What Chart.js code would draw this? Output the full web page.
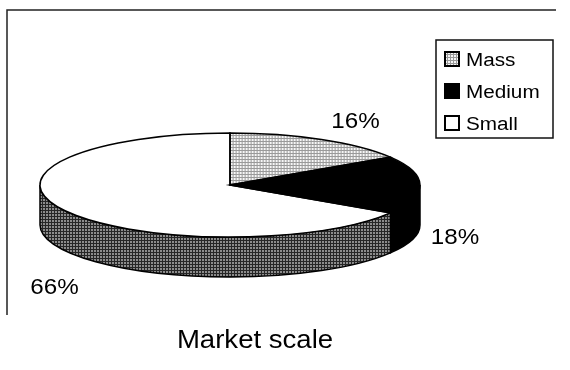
<!DOCTYPE html>
<html>
<head>
<meta charset="utf-8">
<script src="https://cdn.jsdelivr.net/npm/chart.js@4.4.0/dist/chart.umd.min.js"></script>
<style>
  html, body { margin: 0; padding: 0; background: #fff; }
  canvas { display: block; }
</style>
</head>
<body>
<canvas id="pieChart" width="570" height="370"></canvas>
<script>
// Market scale shares, in percent
const categories = ['Mass', 'Medium', 'Small'];
const shares = [16, 18, 66];
const shareLabels = ['16%', '18%', '66%'];
const chartTitle = 'Market scale';

const FONT = '"Liberation Sans", Arial, Helvetica, sans-serif';
const ctx = document.getElementById('pieChart').getContext('2d');

// fine print screens like the scanned original
function screenPattern(bg, ink) {
  const c = document.createElement('canvas');
  c.width = 3; c.height = 3;
  const g = c.getContext('2d');
  g.fillStyle = bg; g.fillRect(0, 0, 3, 3);
  g.fillStyle = ink; g.fillRect(0, 0, 3, 1); g.fillRect(0, 0, 1, 3);
  return ctx.createPattern(c, 'repeat');
}

const massFace = screenPattern('#f6f6f6', '#9a9a9a');
const massSwatch = screenPattern('#f6f6f6', '#9a9a9a');
const smallSide = screenPattern('#8c8c8c', '#262626');

const faceFills = [massFace, '#000', '#fff'];
const sideFills = ['#777', '#000', smallSide];
const swatchFills = [massSwatch, '#000', '#fff'];

const depth = 40;             // thickness of the disc
const labelOffsets = [[34, -17], [35, 53], [-9, 78]];

// squash the round pie into the wide chart area
function flatten(c, el, sx) {
  c.translate(el.x, el.y);
  c.scale(sx, 1);
  c.translate(-el.x, -el.y);
}

function stretchedText(c, text, x, y, k) {
  c.save();
  c.translate(x, y);
  c.scale(k, 1);
  c.fillText(text, 0, 0);
  c.restore();
}

const pie3d = {
  id: 'pie3d',
  beforeDraw(chart) {
    const c = chart.ctx;
    c.save();
    c.fillStyle = '#fff';
    c.fillRect(0, 0, chart.width, chart.height);
    c.strokeStyle = '#222';
    c.lineWidth = 1.5;
    c.beginPath();
    c.moveTo(7, 315); c.lineTo(7, 10); c.lineTo(556, 10);
    c.stroke();
    c.restore();
  },
  beforeDatasetDraw(chart, args) {
    const c = chart.ctx;
    const arcs = args.meta.data;
    const sx = (chart.chartArea.width / 2) / arcs[0].outerRadius;
    chart.$sx = sx;

    // visible front wall of each slice
    arcs.forEach((el, i) => {
      const p = el.getProps(['x', 'y', 'startAngle', 'endAngle', 'outerRadius'], true);
      const a0 = Math.max(p.startAngle, 0), a1 = Math.min(p.endAngle, Math.PI);
      if (a1 <= a0) return;
      const r = p.outerRadius;
      c.save();
      flatten(c, p, sx);
      c.beginPath();
      c.arc(p.x, p.y, r, a0, a1);
      c.lineTo(p.x + r * Math.cos(a1), p.y + depth + r * Math.sin(a1));
      c.arc(p.x, p.y + depth, r, a1, a0, true);
      c.closePath();
      c.restore();
      c.fillStyle = sideFills[i];
      c.fill();
      c.lineWidth = 1.5;
      c.strokeStyle = '#000';
      c.stroke();
    });

    massFace.setTransform(new DOMMatrix([1 / sx, 0, 0, 1, 0, 0]));
    c.save();
    flatten(c, arcs[0].getProps(['x', 'y'], true), sx);
  },
  afterDatasetDraw(chart, args) {
    const c = chart.ctx;
    c.restore();
    const sx = chart.$sx;
    const arcs = args.meta.data;

    arcs.forEach((el, i) => {
      const p = el.getProps(['x', 'y', 'startAngle', 'endAngle', 'outerRadius'], true);
      c.save();
      flatten(c, p, sx);
      c.beginPath();
      c.moveTo(p.x, p.y);
      c.arc(p.x, p.y, p.outerRadius, p.startAngle, p.endAngle);
      c.closePath();
      c.restore();
      c.lineWidth = 1.5;
      c.strokeStyle = '#000';
      c.stroke();

      const mid = (p.startAngle + p.endAngle) / 2;
      const px = p.x + sx * p.outerRadius * Math.cos(mid);
      const py = p.y + p.outerRadius * Math.sin(mid);
      c.fillStyle = '#000';
      c.font = '22px ' + FONT;
      c.textAlign = 'center';
      c.textBaseline = 'middle';
      stretchedText(c, shareLabels[i], px + labelOffsets[i][0], py + labelOffsets[i][1], 1.1);
    });
  },
  afterDraw(chart) {
    const c = chart.ctx;
    c.save();
    // legend box
    c.strokeStyle = '#111';
    c.lineWidth = 1.5;
    c.strokeRect(436, 40, 117, 98);
    c.font = '18px ' + FONT;
    c.textAlign = 'left';
    c.textBaseline = 'alphabetic';
    chart.data.labels.forEach((name, i) => {
      const base = 66 + i * 32;
      c.fillStyle = swatchFills[i];
      c.fillRect(445, base - 14, 14, 14);
      c.lineWidth = 2;
      c.strokeStyle = '#000';
      c.strokeRect(445, base - 14, 14, 14);
      c.fillStyle = '#000';
      stretchedText(c, name, 466, base, 1.15);
    });
    // title under the frame
    c.font = '26px ' + FONT;
    c.textAlign = 'center';
    stretchedText(c, chartTitle, 255, 348, 1.06);
    c.restore();
  }
};

new Chart(ctx, {
  type: 'pie',
  data: {
    labels: categories,
    datasets: [{
      data: shares,
      backgroundColor: faceFills,
      borderWidth: 0,
      clip: false
    }]
  },
  options: {
    responsive: false,
    animation: false,
    events: [],
    layout: { padding: { top: 133, left: 40, right: 150, bottom: 133 } },
    plugins: {
      legend: { display: false },
      tooltip: { enabled: false },
      title: { display: false }
    }
  },
  plugins: [pie3d]
});
</script>
</body>
</html>
